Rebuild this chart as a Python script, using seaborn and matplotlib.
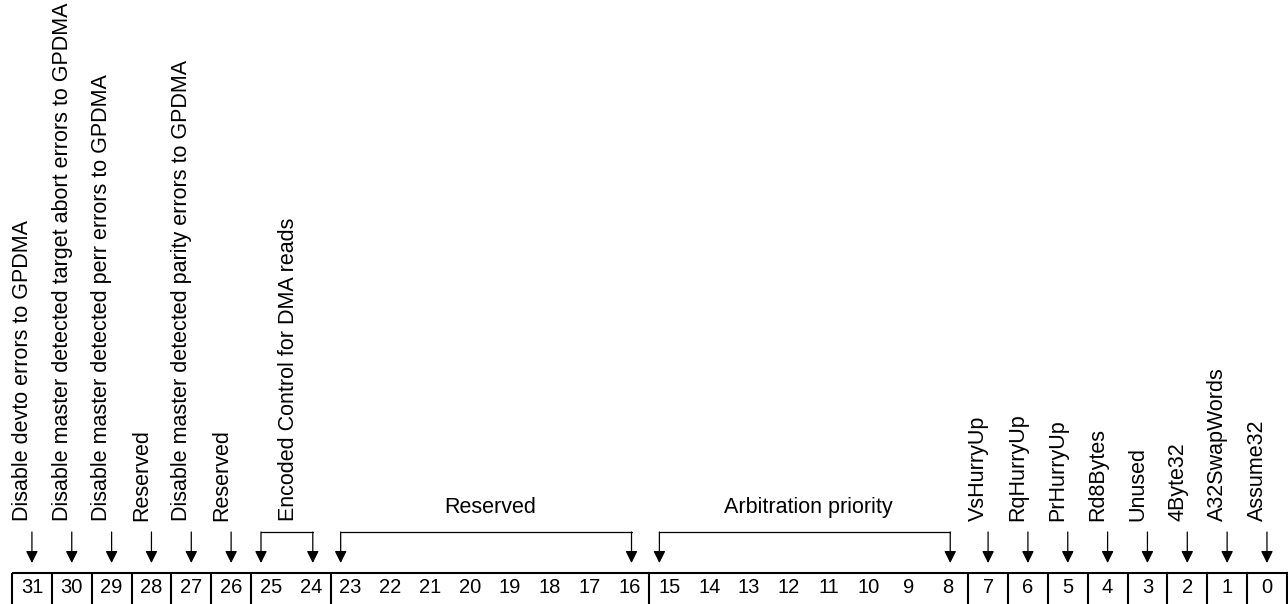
import matplotlib
matplotlib.use("Agg")
import matplotlib.pyplot as plt
import seaborn as sns
from matplotlib.patches import Rectangle

# ---- data ----
field_hi = [31, 30, 29, 28, 27, 26, 25, 23, 15, 7, 6, 5, 4, 3, 2, 1, 0]
field_lo = [31, 30, 29, 28, 27, 26, 24, 16, 8, 7, 6, 5, 4, 3, 2, 1, 0]
field_names = [
    "Disable devto errors to GPDMA",
    "Disable master detected target abort errors to GPDMA",
    "Disable master detected perr errors to GPDMA",
    "Reserved",
    "Disable master detected parity errors to GPDMA",
    "Reserved",
    "Encoded Control for DMA reads",
    "Reserved",
    "Arbitration priority",
    "VsHurryUp",
    "RqHurryUp",
    "PrHurryUp",
    "Rd8Bytes",
    "Unused",
    "4Byte32",
    "A32SwapWords",
    "Assume32",
]
field_vertical = [True, True, True, True, True, True, True, False, False,
                  True, True, True, True, True, True, True, True]
bit_numbers = list(range(31, -1, -1))

# ---- style ----
sns.set_theme(style="white")
plt.rcParams["font.family"] = ["Liberation Sans", "DejaVu Sans"]

W, H, DPI = 1288, 604, 100
fig = plt.figure(figsize=(W / DPI, H / DPI), dpi=DPI)
ax = fig.add_axes([0, 0, 1, 1])
bitw = 39.84
left_px = 12
ax.set_xlim(-left_px / bitw, (W - left_px) / bitw)
ax.set_ylim(H, 0)
ax.axis("off")

lab_fs = 15.5
num_fs = 14.5
box_top, box_bot = 573.3, 606
arrow_top, arrow_tip = 532, 563
label_bottom = 521

def pos(bit):
    return 31 - bit  # left edge of bit in x units

# register box
ax.add_patch(Rectangle((0, box_top), 32, box_bot - box_top, fill=False,
                       edgecolor="black", lw=1.5, clip_on=True))

# dividers between fields
for hi in field_hi[1:]:
    x = pos(hi)
    ax.plot([x, x], [box_top, box_bot], color="black", lw=1.5,
            solid_capstyle="butt")

# bit numbers
for b in bit_numbers:
    ax.text(pos(b) + 0.5, 587.5, str(b), ha="center", va="center",
            fontsize=num_fs, color="black")

def arrow(x):
    ax.annotate("", xy=(x, arrow_tip), xytext=(x, arrow_top),
                arrowprops=dict(arrowstyle="-|>", color="black", lw=0.9,
                                mutation_scale=18, shrinkA=0, shrinkB=0))

for hi, lo, name, vert in zip(field_hi, field_lo, field_names, field_vertical):
    if hi == lo:
        xc = pos(hi) + 0.5
        arrow(xc)
        ax.text(xc + 0.02, label_bottom, name, rotation=90, ha="right",
                va="bottom", fontsize=lab_fs, color="black")
    else:
        xl = pos(hi) + 0.25
        xr = pos(lo) + 0.55
        ax.plot([xl, xr], [arrow_top, arrow_top], color="black", lw=0.9)
        arrow(xl)
        arrow(xr)
        gc = (pos(hi) + pos(lo) + 1) / 2
        if vert:
            ax.text(gc + 0.2, label_bottom, name, rotation=90, ha="right",
                    va="bottom", fontsize=lab_fs, color="black")
        else:
            ax.text(gc, 513, name, ha="center", va="baseline",
                    fontsize=lab_fs, color="black")

fig.savefig("out.png", dpi=DPI, facecolor="white")
